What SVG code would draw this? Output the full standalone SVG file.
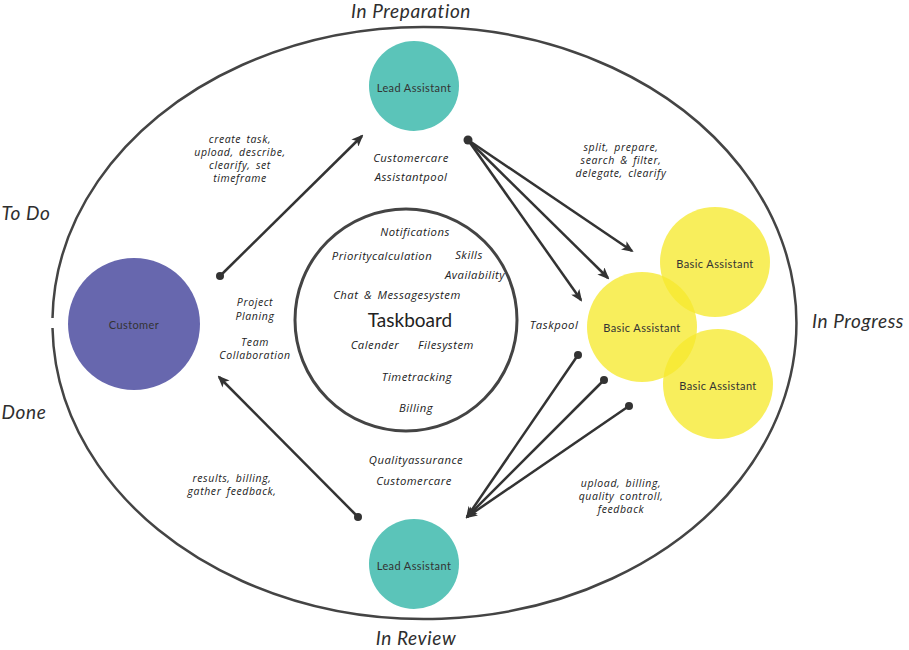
<svg xmlns="http://www.w3.org/2000/svg" width="909" height="650" viewBox="0 0 909 650">
<defs>
<style>
.hand{font-family:"Open Sans","DejaVu Sans",sans-serif;font-style:italic;font-size:11.3px;letter-spacing:0.5px;word-spacing:2px;fill:#222;text-anchor:middle}
.ml{font-size:10.5px;letter-spacing:0.6px}
.stage{font-family:"Lato","Open Sans",sans-serif;font-style:italic;font-weight:400;font-size:19px;letter-spacing:0.6px;fill:#2e2e2e;text-anchor:middle}
.node{font-family:"Lato","Open Sans",sans-serif;font-size:11px;letter-spacing:0.4px;fill:#333;text-anchor:middle;dominant-baseline:central}
.conn{stroke:#333;stroke-width:2.5;fill:none;marker-end:url(#ah)}
.dot{fill:#333}
.yel{fill:#f6e92e;fill-opacity:0.78}
</style>
<marker id="ah" markerWidth="12" markerHeight="10" refX="10" refY="5" orient="auto" markerUnits="userSpaceOnUse">
<path d="M0,0 L12,5 L0,10 L3,5 Z" fill="#333"/>
</marker>
</defs>
<rect width="909" height="650" fill="#fff"/>
<g id="outer">
<path d="M52.5,318 A372,296 0 1 1 52.5,328" fill="none" stroke="#444" stroke-width="2.5"/>
</g>
<g id="stages">
<text class="stage" x="411" y="18">In Preparation</text>
<text class="stage" x="416" y="645">In Review</text>
<text class="stage" x="26" y="220">To Do</text>
<text class="stage" x="24" y="419">Done</text>
<text class="stage" x="858" y="328">In Progress</text>
</g>
<g id="taskboard">
<circle cx="406" cy="320" r="111" fill="none" stroke="#444" stroke-width="3"/>
<text class="hand" x="415" y="236">Notifications</text>
<text class="hand" x="382" y="260">Prioritycalculation</text>
<text class="hand" x="469" y="259">Skills</text>
<text class="hand" x="475" y="279">Availability</text>
<text class="hand" x="397" y="299">Chat &amp; Messagesystem</text>
<text x="410" y="327" font-family="Lato,'Open Sans',sans-serif" font-size="19" fill="#222" text-anchor="middle">Taskboard</text>
<text class="hand" x="375" y="349">Calender</text>
<text class="hand" x="446" y="349">Filesystem</text>
<text class="hand" x="417" y="381">Timetracking</text>
<text class="hand" x="416" y="412">Billing</text>
</g>
<g id="customer">
<circle cx="134" cy="324" r="66" fill="#6767ae"/>
<text class="node" x="134" y="324">Customer</text>
</g>
<g id="lead-top">
<circle cx="414" cy="86" r="45" fill="#5bc4b9"/>
<text class="node" x="414" y="87">Lead Assistant</text>
</g>
<g id="lead-bottom">
<circle cx="414" cy="564" r="45" fill="#5bc4b9"/>
<text class="node" x="414" y="565">Lead Assistant</text>
</g>
<g id="basic-1">
<circle class="yel" cx="715" cy="262" r="55"/>
<text class="node" x="715" y="263">Basic Assistant</text>
</g>
<g id="basic-3">
<circle class="yel" cx="718" cy="384" r="55"/>
<text class="node" x="718" y="385">Basic Assistant</text>
</g>
<g id="basic-2">
<circle class="yel" cx="642" cy="327" r="55"/>
<text class="node" x="642" y="327">Basic Assistant</text>
</g>
<g id="connectors">
<line class="conn" x1="220" y1="276" x2="362" y2="136"/>
<circle class="dot" cx="220" cy="276" r="4"/>
<line class="conn" x1="358" y1="517" x2="219" y2="377"/>
<circle class="dot" cx="358" cy="517" r="4"/>
<line class="conn" x1="468" y1="140" x2="632" y2="251"/>
<line class="conn" x1="468" y1="140" x2="608" y2="278"/>
<line class="conn" x1="468" y1="140" x2="581" y2="300"/>
<circle class="dot" cx="468" cy="140" r="4.5"/>
<line class="conn" x1="578" y1="355" x2="467" y2="517"/>
<line class="conn" x1="604" y1="380" x2="467" y2="517"/>
<line class="conn" x1="629" y1="406" x2="467" y2="517"/>
<circle class="dot" cx="578" cy="355" r="4"/>
<circle class="dot" cx="604" cy="380" r="4"/>
<circle class="dot" cx="629" cy="406" r="4"/>
</g>
<g id="labels">
<text class="hand ml" x="240" y="143">create task,</text>
<text class="hand ml" x="240" y="156">upload, describe,</text>
<text class="hand ml" x="240" y="169">clearify, set</text>
<text class="hand ml" x="240" y="182">timeframe</text>
<text class="hand" x="411" y="162">Customercare</text>
<text class="hand" x="411" y="181">Assistantpool</text>
<text class="hand ml" x="621" y="151">split, prepare,</text>
<text class="hand ml" x="621" y="164">search &amp; filter,</text>
<text class="hand ml" x="621" y="177">delegate, clearify</text>
<text class="hand ml" x="255" y="306">Project</text>
<text class="hand ml" x="255" y="320">Planing</text>
<text class="hand ml" x="255" y="346">Team</text>
<text class="hand ml" x="255" y="359">Collaboration</text>
<text class="hand" x="554" y="329">Taskpool</text>
<text class="hand" x="416" y="464">Qualityassurance</text>
<text class="hand" x="414" y="485">Customercare</text>
<text class="hand ml" x="621" y="487">upload, billing,</text>
<text class="hand ml" x="621" y="500">quality controll,</text>
<text class="hand ml" x="621" y="513">feedback</text>
<text class="hand ml" x="232" y="482">results, billing,</text>
<text class="hand ml" x="232" y="495">gather feedback,</text>
</g>
</svg>
